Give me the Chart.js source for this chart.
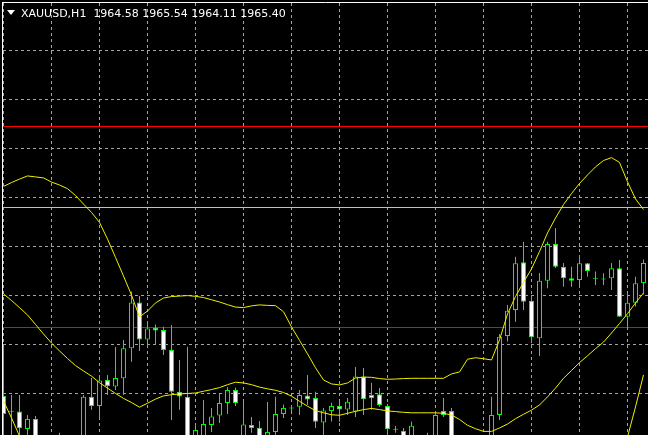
<!DOCTYPE html>
<html>
<head>
<meta charset="utf-8">
<title>XAUUSD,H1</title>
<script src="https://cdn.jsdelivr.net/npm/chart.js@4.4.0/dist/chart.umd.min.js"></script>
<style>
  html, body { margin: 0; padding: 0; background: #000; }
  #wrap { position: relative; width: 648px; height: 435px; overflow: hidden; background: #000; }
  #chart { position: absolute; left: 0; top: 0; }
  #tri { position: absolute; left: 7px; top: 10px; width: 0; height: 0;
         border-left: 4px solid transparent; border-right: 4px solid transparent; border-top: 5px solid #fff; }
  #title { position: absolute; left: 21px; top: 7px; line-height: 13px; color: #fff;
           font: 11px "DejaVu Sans", sans-serif; white-space: pre; }
</style>
</head>
<body>
<div id="wrap">
  <canvas id="chart" width="648" height="435"></canvas>
  <div id="tri"></div>
  <div id="title"></div>
</div>
<script>
const symbol = "XAUUSD,H1";

// one value per H1 bar, oldest first
const opens = [
  1959.97, 1959.36, 1959.33, 1958.62, 1959.03, 1957.96, 1957.15, 1958.09, 1957.43, 1957.68,
  1957.96, 1959.94, 1959.56, 1960.62, 1960.36, 1960.69, 1961.92, 1963.79, 1962.28, 1962.76,
  1962.66, 1961.85, 1960.14, 1959.94, 1957.96, 1958.25, 1958.78, 1959.17, 1959.68, 1960.21,
  1958.17, 1958.78, 1958.67, 1958.09, 1958.50, 1959.23, 1959.46, 1959.53, 1959.99, 1959.89,
  1958.88, 1959.35, 1959.56, 1959.42, 1959.33, 1960.76, 1960.01, 1960.04, 1959.56, 1958.63,
  1958.55, 1958.17, 1957.68, 1958.25, 1958.17, 1959.35, 1959.35, 1957.35, 1958.09, 1957.43,
  1958.17, 1958.17, 1959.19, 1962.42, 1963.48, 1965.43, 1963.86, 1962.33, 1964.68, 1966.18,
  1965.25, 1964.78, 1964.71, 1965.39, 1964.80, 1964.73, 1964.78, 1965.19, 1963.21, 1963.78,
  1964.58
];
const highs = [
  1961.97, 1960.01, 1960.01, 1959.19, 1959.15, 1958.25, 1958.09, 1958.46, 1958.17, 1958.29,
  1960.01, 1960.70, 1960.83, 1960.83, 1961.97, 1962.26, 1964.24, 1964.05, 1963.03, 1962.89,
  1962.80, 1962.87, 1961.44, 1961.98, 1958.78, 1959.80, 1959.48, 1960.05, 1960.33, 1960.31,
  1959.76, 1959.11, 1958.95, 1959.72, 1959.94, 1959.62, 1959.60, 1960.21, 1960.83, 1960.14,
  1959.48, 1959.69, 1959.76, 1959.89, 1961.15, 1961.11, 1960.51, 1960.29, 1959.64, 1958.74,
  1958.66, 1958.92, 1958.25, 1958.46, 1959.33, 1959.89, 1959.48, 1958.29, 1958.29, 1958.25,
  1958.29, 1959.94, 1962.50, 1963.69, 1965.66, 1966.27, 1964.09, 1964.99, 1966.27, 1966.83,
  1965.40, 1965.25, 1965.73, 1965.40, 1965.05, 1964.98, 1965.40, 1965.52, 1964.23, 1964.84,
  1965.54
];
const lows = [
  1958.17, 1957.96, 1957.96, 1958.17, 1957.35, 1957.03, 1956.94, 1957.23, 1957.15, 1957.43,
  1957.76, 1959.40, 1959.07, 1960.01, 1960.21, 1960.01, 1961.37, 1961.81, 1961.97, 1962.05,
  1961.64, 1958.99, 1959.40, 1957.76, 1957.76, 1957.96, 1958.50, 1958.86, 1959.23, 1959.56,
  1957.96, 1958.46, 1957.96, 1957.88, 1958.33, 1959.07, 1959.35, 1959.19, 1959.60, 1958.66,
  1958.25, 1958.92, 1958.91, 1959.19, 1959.11, 1959.19, 1959.40, 1959.53, 1958.25, 1958.46,
  1957.76, 1957.96, 1957.52, 1957.68, 1957.96, 1959.11, 1957.76, 1957.11, 1957.35, 1957.23,
  1957.52, 1957.96, 1958.99, 1962.19, 1963.00, 1963.48, 1962.12, 1961.60, 1964.37, 1965.20,
  1964.43, 1964.43, 1964.43, 1964.84, 1964.50, 1964.50, 1964.30, 1963.21, 1962.73, 1963.62,
  1964.11
];
const closes = [
  1959.23, 1959.32, 1958.65, 1959.03, 1957.76, 1957.27, 1957.76, 1957.43, 1957.96, 1958.17,
  1959.94, 1959.56, 1960.60, 1960.38, 1960.70, 1961.92, 1963.79, 1962.28, 1962.73, 1962.64,
  1961.85, 1960.14, 1959.95, 1957.96, 1958.58, 1958.82, 1959.13, 1959.68, 1960.21, 1959.68,
  1958.80, 1958.66, 1958.17, 1958.50, 1959.23, 1959.48, 1959.50, 1960.01, 1959.82, 1958.91,
  1959.37, 1959.56, 1959.42, 1959.73, 1960.76, 1959.83, 1959.87, 1959.60, 1958.61, 1958.59,
  1957.96, 1958.75, 1958.17, 1957.84, 1959.19, 1959.19, 1957.96, 1958.00, 1957.56, 1957.96,
  1957.68, 1959.19, 1962.39, 1963.45, 1965.39, 1963.82, 1962.37, 1964.68, 1966.18, 1965.25,
  1964.78, 1964.68, 1965.39, 1965.08, 1964.76, 1964.77, 1965.19, 1963.21, 1963.78, 1964.57,
  1965.40
];

// Bollinger Bands
const bbUpper = [
  1968.53, 1968.69, 1968.83, 1968.96, 1968.92, 1968.88, 1968.71, 1968.59, 1968.44, 1968.16,
  1967.81, 1967.47, 1967.06, 1966.38, 1965.63, 1964.87, 1964.09, 1963.20, 1963.44, 1963.77,
  1963.97, 1964.03, 1964.05, 1964.07, 1964.04, 1963.99, 1963.90, 1963.81, 1963.70, 1963.60,
  1963.58, 1963.65, 1963.69, 1963.67, 1963.66, 1963.41, 1962.79, 1962.24, 1961.69, 1961.12,
  1960.62, 1960.46, 1960.42, 1960.50, 1960.70, 1960.74, 1960.73, 1960.68, 1960.65, 1960.66,
  1960.68, 1960.69, 1960.69, 1960.69, 1960.69, 1960.69, 1960.87, 1960.95, 1961.47, 1961.53,
  1961.49, 1961.44, 1962.26, 1963.32, 1964.03, 1964.61, 1965.16, 1965.87, 1966.63, 1967.24,
  1967.79, 1968.24, 1968.65, 1969.00, 1969.33, 1969.59, 1969.71, 1969.51, 1968.72, 1968.02,
  1967.59
];
const bbMiddle = [
  1964.14, 1963.87, 1963.58, 1963.28, 1962.89, 1962.50, 1962.13, 1961.81, 1961.50, 1961.21,
  1960.99, 1960.78, 1960.51, 1960.29, 1960.07, 1959.87, 1959.70, 1959.51, 1959.67, 1959.84,
  1959.97, 1960.02, 1960.05, 1960.07, 1960.09, 1960.16, 1960.23, 1960.31, 1960.43, 1960.53,
  1960.50, 1960.43, 1960.33, 1960.26, 1960.20, 1960.11, 1959.96, 1959.75, 1959.55, 1959.37,
  1959.28, 1959.20, 1959.18, 1959.26, 1959.34, 1959.41, 1959.46, 1959.41, 1959.36, 1959.33,
  1959.30, 1959.28, 1959.28, 1959.28, 1959.28, 1959.26, 1959.19, 1959.01, 1958.77, 1958.63,
  1958.52, 1958.52, 1958.66, 1958.82, 1959.04, 1959.22, 1959.39, 1959.60, 1959.93, 1960.29,
  1960.69, 1961.01, 1961.33, 1961.61, 1961.90, 1962.17, 1962.54, 1962.93, 1963.33, 1963.77,
  1964.18
];
const bbLower = [
  1959.76, 1959.07, 1958.33, 1957.60, 1956.86, 1956.13, 1955.55, 1955.02, 1954.57, 1954.27,
  1954.16, 1954.10, 1953.96, 1954.21, 1954.51, 1954.87, 1955.31, 1955.82, 1955.90, 1955.92,
  1955.96, 1956.00, 1956.04, 1956.06, 1956.14, 1956.33, 1956.56, 1956.82, 1957.15, 1957.45,
  1957.41, 1957.21, 1956.97, 1956.85, 1956.73, 1956.81, 1957.13, 1957.27, 1957.41, 1957.63,
  1957.94, 1957.94, 1957.94, 1958.03, 1957.98, 1958.07, 1958.18, 1958.14, 1958.07, 1958.01,
  1957.91, 1957.88, 1957.88, 1957.88, 1957.87, 1957.84, 1957.52, 1957.08, 1956.09, 1955.72,
  1955.55, 1955.59, 1955.06, 1954.33, 1954.04, 1953.84, 1953.63, 1953.33, 1953.22, 1953.35,
  1953.59, 1953.78, 1954.01, 1954.23, 1954.47, 1954.76, 1955.37, 1956.35, 1958.29, 1959.52,
  1960.83
];

const redLevels = [1970.98, 1962.766];  // horizontal lines
const bidLevel = 1967.67;               // grey line
const gridPrices = [1960.08, 1962.08, 1964.08, 1966.08, 1968.08, 1970.08, 1972.08, 1974.08];
const gridBars = [0, 6, 12, 18, 24, 30, 36, 42, 48, 54, 60, 66, 72, 78];

// visible window
const xMin = -0.1875, xMax = 80.5625;
const yMin = 1958.373, yMax = 1976.068;

const last = closes.length - 1;
document.getElementById("title").textContent =
  `${symbol}  ${opens[last].toFixed(2)} ${highs[last].toFixed(2)} ${lows[last].toFixed(2)} ${closes[last].toFixed(2)}`;

const bars = opens.map((_, i) => i);
const wicks = bars.map(i => ({ x: i, y: [lows[i], highs[i]] }));
const bodies = bars.map(i => ({ x: i, y: [opens[i], closes[i]] }));
const bodyFill = bars.map(i => closes[i] < opens[i] ? "#ffffff" : "#000000");
const toPoints = arr => arr.map((v, i) => ({ x: i, y: v }));
const hLine = v => [{ x: xMin, y: v }, { x: xMax, y: v }];

const lineStyle = { type: "line", borderWidth: 1, pointRadius: 0, tension: 0, fill: false };
const axisStyle = {
  type: "linear",
  offset: false,
  grid: { color: "#a4a4a4", lineWidth: 1, drawTicks: false, offset: false },
  border: { display: true, color: "#ffffff", width: 1, dash: [3, 3], z: 1 },
  ticks: { display: false }
};

new Chart(document.getElementById("chart"), {
  type: "bar",
  data: {
    datasets: [
      { ...lineStyle, data: hLine(redLevels[0]), borderColor: "#ff0000", order: 5 },
      { ...lineStyle, data: hLine(redLevels[1]), borderColor: "#ff0000", order: 5 },
      { ...lineStyle, data: hLine(bidLevel), borderColor: "#c0c0c0", order: 5 },
      {
        type: "bar", data: wicks, backgroundColor: "#00ff00", borderWidth: 0,
        grouped: false, categoryPercentage: 1, barPercentage: 0.125, inflateAmount: 0, order: 3
      },
      {
        type: "bar", data: bodies, backgroundColor: bodyFill, borderColor: "#00ff00", borderWidth: 1,
        borderSkipped: false, grouped: false, categoryPercentage: 1, barPercentage: 0.625,
        inflateAmount: 0, order: 2
      },
      { ...lineStyle, data: toPoints(bbUpper), borderColor: "#f0f000", order: 1 },
      { ...lineStyle, data: toPoints(bbMiddle), borderColor: "#f0f000", order: 1 },
      { ...lineStyle, data: toPoints(bbLower), borderColor: "#f0f000", order: 1 }
    ]
  },
  options: {
    responsive: false,
    animation: false,
    devicePixelRatio: 1,
    layout: { padding: { left: 2, top: 2, right: 0, bottom: 0 } },
    plugins: { legend: { display: false }, tooltip: { enabled: false } },
    scales: {
      x: {
        ...axisStyle, position: "top", min: xMin, max: xMax,
        afterBuildTicks: s => { s.ticks = gridBars.map(v => ({ value: v })); }
      },
      y: {
        ...axisStyle, position: "left", min: yMin, max: yMax,
        afterBuildTicks: s => { s.ticks = gridPrices.map(v => ({ value: v })); }
      }
    }
  }
});
</script>
</body>
</html>
